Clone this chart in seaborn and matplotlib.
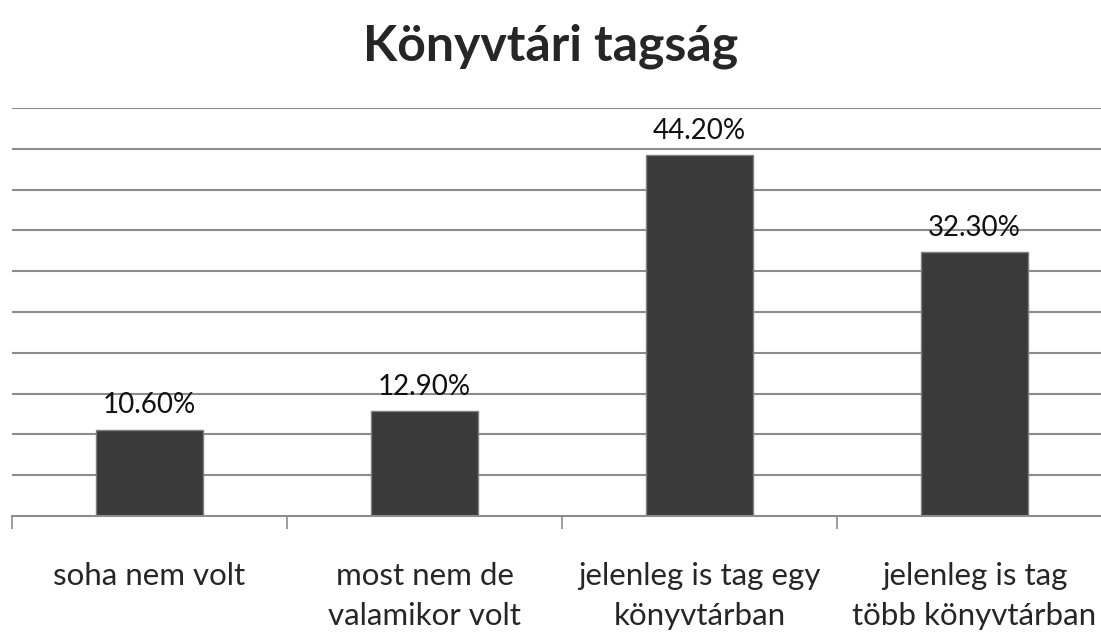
import numpy as np
import pandas as pd
import matplotlib
matplotlib.use('Agg')
import matplotlib.pyplot as plt
import seaborn as sns

categories = ['soha nem volt', 'most nem de\nvalamikor volt',
              'jelenleg is tag egy\nkönyvtárban', 'jelenleg is tag\ntöbb könyvtárban']
values = [10.6, 12.9, 44.2, 32.3]
title = 'Könyvtári tagság'

sns.set_style('white')
plt.rcParams['font.family'] = ['Lato', 'DejaVu Sans']

df = pd.DataFrame({'cat': categories, 'val': values})

fig = plt.figure(figsize=(11.01, 6.32), dpi=100)
ax = fig.add_axes([12 / 1101, 116 / 632, 1100 / 1101, 408 / 632])

sns.barplot(data=df, x='cat', y='val', color='#3a3a3a', width=0.39,
            edgecolor='#7f7f7f', linewidth=1, saturation=1, ax=ax, zorder=3)

ax.set_ylim(0, 50)
ax.set_xlim(-0.5, 3.5)
ax.set_yticks(np.arange(5, 51, 5))
ax.yaxis.grid(True, color='#8c8c8c', linewidth=1.5)
ax.tick_params(axis='y', left=False, labelleft=False)
for s in ['top', 'right', 'left']:
    ax.spines[s].set_visible(False)
ax.spines['bottom'].set_color('#8c8c8c')
ax.spines['bottom'].set_linewidth(1.5)
ax.spines['bottom'].set_zorder(4)

ax.set_xticks(range(len(categories)))
ax.set_xticklabels(categories, linespacing=1.55)
ax.set_xticks(np.arange(-0.5, 3.6, 1), minor=True)
ax.tick_params(axis='x', which='minor', bottom=True, length=9, width=1.2,
               color='#8c8c8c', direction='out')
ax.tick_params(axis='x', which='major', bottom=True, length=0, pad=33, labelsize=22.5)
ax.set_xlabel('')
ax.set_ylabel('')

ax.bar_label(ax.containers[0], fmt='%.2f%%', padding=8, fontsize=20, color='#111111')

fig.text(0.5, 1 - 46 / 632, title, ha='center', va='center', fontsize=36, fontweight='bold')

fig.savefig('out.png', dpi=100)
